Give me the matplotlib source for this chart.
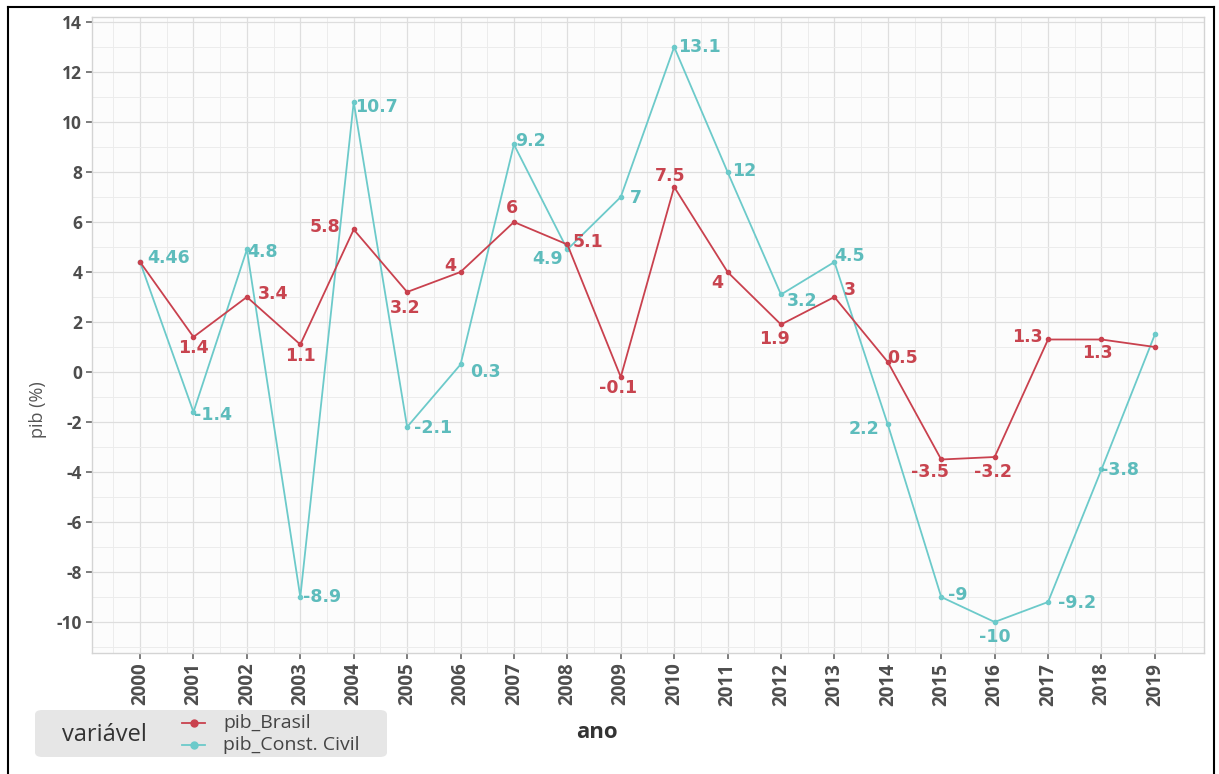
import matplotlib
matplotlib.use('Agg')
import matplotlib.pyplot as plt
from matplotlib.lines import Line2D
from matplotlib.patches import FancyBboxPatch
from matplotlib.ticker import MultipleLocator

plt.rcParams['axes.unicode_minus'] = False

# data
anos = list(range(2000, 2020))
pib_brasil = [4.4, 1.4, 3.0, 1.1, 5.7, 3.2, 4.0, 6.0, 5.1, -0.2,
              7.4, 4.0, 1.9, 3.0, 0.4, -3.5, -3.4, 1.3, 1.3, 1.0]
pib_construcao = [4.4, -1.6, 4.9, -9.0, 10.8, -2.2, 0.3, 9.1, 4.9, 7.0,
                  13.0, 8.0, 3.1, 4.4, -2.1, -9.0, -10.0, -9.2, -3.9, 1.5]
rotulos_brasil = ['', '1.4', '3.4', '1.1', '5.8', '3.2', '4', '6', '5.1', '-0.1',
                  '7.5', '4', '1.9', '3', '0.5', '-3.5', '-3.2', '1.3', '1.3', '']
rotulos_construcao = ['4.46', '-1.4', '4.8', '-8.9', '10.7', '-2.1', '0.3', '9.2', '4.9', '7',
                      '13.1', '12', '3.2', '4.5', '2.2', '-9', '-10', '-9.2', '-3.8', '']
series = ['pib_Brasil', 'pib_Const. Civil']

# label offsets in pixels (dx, dy)
off_brasil = [(0, 0), (0, -11), (26, 3), (0, -12), (-29, 2), (-2, -16), (-10, 6), (-2, 14),
              (21, 2), (-3, -11), (-4, 11), (-10, -11), (-7, -15), (15, 7), (15, 4),
              (-11, -13), (-2, -15), (-21, 2), (-4, -14), (0, 0)]
off_constr = [(28, 4), (20, -3), (16, -3), (22, 0), (23, -5), (26, -1), (25, -8), (17, 3),
              (-20, -10), (15, -1), (25, 0), (17, 1), (21, -7), (15, 6), (-24, -5),
              (17, 2), (0, -15), (29, -1), (19, -1), (0, 0)]

RED = '#c9414e'
RED_TXT = '#c8444f'
CYAN = '#6ccaca'
CYAN_TXT = '#5dbcbc'
W, H = 1219, 774

fig = plt.figure(figsize=(W / 100, H / 100), dpi=100)
fig.patch.set_facecolor('white')
ax = fig.add_axes([92 / W, 1 - 653 / H, (1204 - 92) / W, (653 - 17) / H])
ax.set_facecolor('#fcfcfc')

ax.plot(anos, pib_construcao, color=CYAN, lw=1.3, marker='o', ms=3, zorder=3)
ax.plot(anos, pib_brasil, color=RED, lw=1.3, marker='o', ms=3, zorder=4)

for x, y, t, o in zip(anos, pib_brasil, rotulos_brasil, off_brasil):
    if t:
        ax.annotate(t, (x, y), xytext=o, textcoords='offset pixels', ha='center', va='center',
                    color=RED_TXT, fontsize=12.5, fontweight='bold', family='DejaVu Sans', zorder=5)
for x, y, t, o in zip(anos, pib_construcao, rotulos_construcao, off_constr):
    if t:
        ax.annotate(t, (x, y), xytext=o, textcoords='offset pixels', ha='center', va='center',
                    color=CYAN_TXT, fontsize=12.5, fontweight='bold', family='DejaVu Sans', zorder=5)

ax.set_xlim(1999.1, 2019.92)
ax.set_ylim(-11.24, 14.2)
ax.set_xticks(anos)
ax.set_xticklabels([str(a) for a in anos], rotation=90)
ax.xaxis.set_minor_locator(MultipleLocator(0.5))
ax.yaxis.set_major_locator(MultipleLocator(2))
ax.yaxis.set_minor_locator(MultipleLocator(1))
ax.grid(which='major', color='#dedede', lw=0.9)
ax.grid(which='minor', color='#ececec', lw=0.7)
ax.set_axisbelow(True)
for s in ax.spines.values():
    s.set_color('#d4d4d4')
    s.set_linewidth(1.0)

ax.tick_params(which='minor', length=0)
ax.tick_params(which='major', length=4, width=1.2, color='#666666', labelcolor='#4d4d4d', pad=3)
for lab in ax.get_yticklabels():
    lab.set_fontfamily('Open Sans')
    lab.set_fontweight('bold')
    lab.set_fontsize(12.5)
for lab in ax.get_xticklabels():
    lab.set_fontfamily('Open Sans')
    lab.set_fontweight('bold')
    lab.set_fontsize(13.5)

fig.text(38 / W, 1 - 410 / H, 'pib (%)', rotation=90, ha='center', va='center',
         fontsize=13, color='#555555', family='Open Sans')
fig.text(597 / W, 1 - 733 / H, 'ano', ha='center', va='center',
         fontsize=16, fontweight='bold', color='#333333', family='Open Sans')

# legend box
fig.patches.append(FancyBboxPatch((35 / W, 1 - 757 / H), (387 - 35) / W, (757 - 710) / H,
                                  boxstyle='round,pad=0,rounding_size=0.006', transform=fig.transFigure,
                                  facecolor='#e6e6e6', edgecolor='none', zorder=1))
fig.text(62 / W, 1 - 735 / H, 'variável', ha='left', va='center', fontsize=17,
         color='#333333', family='Open Sans', zorder=2)
for i, (nome, cor) in enumerate(zip(series, [RED, CYAN])):
    yy = 1 - (723 + 22 * i) / H
    fig.lines.append(Line2D([182 / W, 205 / W], [yy, yy], transform=fig.transFigure,
                            color=cor, lw=1.3, zorder=2))
    fig.lines.append(Line2D([193.5 / W], [yy], transform=fig.transFigure,
                            color=cor, marker='o', ms=5, lw=0, zorder=3))
    fig.text(223 / W, yy, nome, ha='left', va='center', fontsize=14,
             color='#444444', family='Open Sans', zorder=2)

# outer frame
for xs, ys in [([8 / W, 8 / W], [0, 1 - 7 / H]),
               ([1214 / W, 1214 / W], [0, 1 - 7 / H]),
               ([8 / W, 1214 / W], [1 - 7 / H, 1 - 7 / H])]:
    fig.lines.append(Line2D(xs, ys, transform=fig.transFigure, color='black', lw=1.5))

fig.savefig('out.png', dpi=100)
